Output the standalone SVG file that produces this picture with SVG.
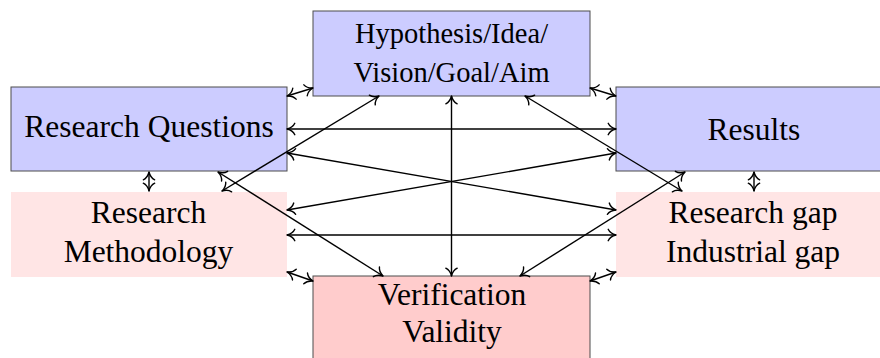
<svg xmlns="http://www.w3.org/2000/svg" width="880" height="358" viewBox="0 0 880 358">
<style>
.blue{fill:#ccccff;stroke:#4d4d4d;stroke-width:1}
.red{fill:#ffcccc;stroke:#4d4d4d;stroke-width:1}
.pink{fill:#ffe5e5;stroke:none}
text{fill:#000;text-anchor:middle}
.t{font-size:31.5px}
.h{font-size:28.5px}
.c line{stroke:#000;stroke-width:1.4;fill:none;marker-start:url(#ah);marker-end:url(#ah)}
</style>
<defs>
<marker id="ah" markerUnits="userSpaceOnUse" orient="auto-start-reverse" markerWidth="12" markerHeight="16" refX="9" refY="8" overflow="visible">
<path d="M1.2,2.3 C2.6,5.3 6.6,7.4 9,8 C6.6,8.6 2.6,10.7 1.2,13.7" fill="none" stroke="#000" stroke-width="1.4" stroke-linecap="round" stroke-linejoin="round"/>
</marker>
</defs>
<g id="hyp"><rect class="blue" x="313" y="11" width="277" height="85"/><text class="h" font-family="Liberation Serif" x="451.5" y="43">Hypothesis/Idea/</text><text class="h" font-family="Liberation Serif" x="451.5" y="82">Vision/Goal/Aim</text></g>
<g id="rq"><rect class="blue" x="11" y="87" width="276" height="84"/><text class="t" font-family="Liberation Serif" x="149" y="137">Research Questions</text></g>
<g id="results"><rect class="blue" x="616" y="87" width="276" height="84"/><text class="t" font-family="Liberation Serif" x="754" y="140">Results</text></g>
<g id="rm"><rect class="pink" x="11" y="192" width="276" height="85"/><text class="t" font-family="Liberation Serif" x="148.5" y="223">Research</text><text class="t" font-family="Liberation Serif" x="148.5" y="262">Methodology</text></g>
<g id="rg"><rect class="pink" x="616" y="192" width="276" height="85"/><text class="t" font-family="Liberation Serif" x="753" y="223">Research gap</text><text class="t" font-family="Liberation Serif" x="753" y="262">Industrial gap</text></g>
<g id="ver"><rect class="red" x="313" y="276" width="277" height="95"/><text class="t" font-family="Liberation Serif" x="452" y="305">Verification</text><text class="t" font-family="Liberation Serif" x="452" y="342">Validity</text></g>
<g id="connectors" class="c">
<line x1="287" y1="96" x2="313" y2="88"/>
<line x1="590" y1="88" x2="616" y2="96"/>
<line x1="287" y1="129" x2="616" y2="129"/>
<line x1="287" y1="153" x2="616" y2="210"/>
<line x1="616" y1="153" x2="287" y2="210"/>
<line x1="287" y1="235" x2="616" y2="235"/>
<line x1="451.5" y1="96" x2="451.5" y2="276"/>
<line x1="222" y1="191" x2="379" y2="96"/>
<line x1="682" y1="191" x2="525" y2="96"/>
<line x1="218" y1="172" x2="383" y2="276"/>
<line x1="685" y1="172" x2="520" y2="276"/>
<line x1="149" y1="172" x2="149" y2="191"/>
<line x1="754" y1="172" x2="754" y2="191"/>
<line x1="287" y1="272" x2="313" y2="281"/>
<line x1="590" y1="281" x2="616" y2="272"/>
</g>
</svg>
